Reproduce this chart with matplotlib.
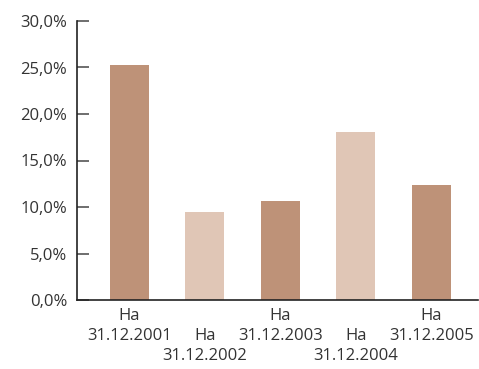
import matplotlib
matplotlib.use("Agg")
import matplotlib.pyplot as plt
from matplotlib.ticker import FuncFormatter

categories = ["На\n31.12.2001", "На\n31.12.2002", "На\n31.12.2003", "На\n31.12.2004", "На\n31.12.2005"]
values = [25.3, 9.5, 10.6, 18.1, 12.4]
colors = ["#BE9278", "#E0C6B6", "#BE9278", "#E0C6B6", "#BE9278"]
yticks = [0, 5, 10, 15, 20, 25, 30]

plt.rcParams['font.family'] = ['Open Sans', 'DejaVu Sans']

fig = plt.figure(figsize=(4.79, 3.69), dpi=100)
ax = fig.add_axes([77/479, 69/369, 401/479, 279/369])
x = list(range(len(values)))
ax.bar(x, values, width=0.515, color=colors, zorder=2)
ax.set_ylim(0, 30)
ax.set_xlim(-0.69, 4.62)
ax.set_yticks(yticks)
ax.yaxis.set_major_formatter(FuncFormatter(lambda v, p: f"{v:.1f}".replace(".", ",") + "%"))
ax.set_xticks(x)
ax.set_xticklabels(categories, fontsize=12, color="#333333", linespacing=1.32)
for lab in ax.get_yticklabels():
    lab.set_fontsize(12)
    lab.set_color("#333333")
ax.tick_params(axis='y', direction='in', length=8.5, width=1.2, color="#555555", pad=7)
ax.tick_params(axis='x', length=0, pad=6.0)
for i, t in enumerate(ax.xaxis.get_major_ticks()):
    if i % 2 == 1:
        t.set_pad(6.0 + 14.4)
for s in ["top", "right"]:
    ax.spines[s].set_visible(False)
ax.spines["left"].set_color("#222222")
ax.spines["bottom"].set_color("#222222")
ax.spines["left"].set_linewidth(1.2)
ax.spines["bottom"].set_linewidth(1.2)
fig.savefig("out.png", dpi=100)
